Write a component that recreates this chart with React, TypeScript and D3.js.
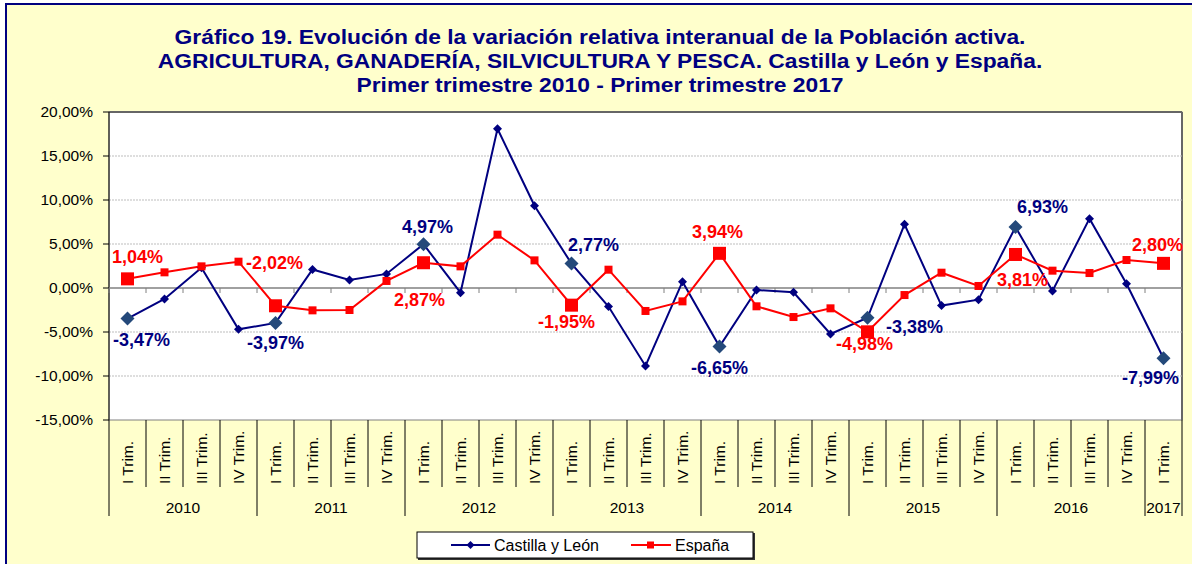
import React from 'react';
import * as d3 from 'd3';

// quarters 2010-I .. 2017-I
const years = ['2010', '2011', '2012', '2013', '2014', '2015', '2016', '2017'];
const quarterNames = ['I Trim.', 'II Trim.', 'III Trim.', 'IV Trim.'];
const categories = years.flatMap(y => (y === '2017' ? ['I Trim.'] : quarterNames).map(q => `${y}-${q}`));

const castillaLeon = [
    -3.47, -1.25, 2.3, -4.7,
    -3.97, 2.1, 0.9, 1.6,
    4.97, -0.53, 18.1, 9.35,
    2.77, -2.1, -8.86, 0.72,
    -6.65, -0.23, -0.49, -5.23,
    -3.38, 7.24, -2.0, -1.33,
    6.93, -0.34, 7.88, 0.49,
    -7.99,
];
const espana = [
    1.04, 1.78, 2.46, 2.99,
    -2.02, -2.54, -2.5, 0.8,
    2.87, 2.46, 6.06, 3.14,
    -1.95, 2.08, -2.61, -1.52,
    3.94, -2.08, -3.3, -2.31,
    -4.98, -0.8, 1.74, 0.23,
    3.81, 1.97, 1.7, 3.18,
    2.8,
];
const yTicks = [-15, -10, -5, 0, 5, 10, 15, 20];
const titleLines = [
    'Gráfico 19. Evolución de la variación relativa interanual de la Población activa.',
    'AGRICULTURA, GANADERÍA, SILVICULTURA Y PESCA. Castilla y León y España.',
    'Primer trimestre 2010 - Primer trimestre 2017',
];

// label offsets (px) for the highlighted first quarters
const blueLabelOffsets = [[14, 21], [0, 20], [4, -18], [22, -19], [0, 21], [47, 9], [27, -20], [-13, 19]];
const redLabelOffsets = [[10, -22], [-1, -43], [-4, 37], [-5, 17], [-2, -22], [-3, 12], [7, 25], [-6, -19]];

const W = 1192, H = 564;
const FONT = '"Liberation Sans", Arial, sans-serif';
const NAVY = '#000080';
const RED = '#FF0000';
const BIGBLUE = '#24497A';

const fmt = (v: number) => (v < 0 ? '-' : '') + Math.abs(v).toFixed(2).replace('.', ',') + '%';

const App = () => {
    const margin = { left: 109, right: 1182, top: 112, bottom: 420 };
    const x = d3.scaleBand().domain(categories).range([margin.left, margin.right]);
    const y = d3.scaleLinear().domain([-15, 20]).range([margin.bottom, margin.top]);
    const cx = (i: number) => (x(categories[i]) as number) + x.bandwidth() / 2;

    const line = d3.line<number>().x((d, i) => cx(i)).y(d => y(d));
    const highlighted = categories.map((c, i) => i).filter(i => categories[i].endsWith('-I Trim.'));

    const diamond = (px: number, py: number, r: number) =>
        `M${px},${py - r}L${px + r},${py}L${px},${py + r}L${px - r},${py}Z`;

    return (
        <svg width={W} height={H} style={{ position: 'absolute', left: 0, top: 0, fontFamily: FONT }}>
            <rect x={0} y={0} width={W} height={H} fill="#FFFFFF" />
            <rect x={6} y={4} width={W + 10} height={H + 10} fill="#FFFFCC" stroke={NAVY} strokeWidth={2} />

            <g transform="translate(600,0) scale(1.087,1)">
                {titleLines.map((t, i) => (
                    <text key={i} x={0} y={44 + i * 24} textAnchor="middle" fontSize={21} fontWeight="bold" fill={NAVY}>{t}</text>
                ))}
            </g>

            {/* plot area */}
            <rect x={margin.left} y={margin.top} width={margin.right - margin.left} height={margin.bottom - margin.top}
                fill="#FFFFFF" stroke="#808080" strokeWidth={1} />
            <line x1={margin.left} x2={margin.right} y1={margin.top} y2={margin.top} stroke="#666" strokeWidth={2} />
            <line x1={margin.right} x2={margin.right} y1={margin.top} y2={margin.bottom} stroke="#666" strokeWidth={2} />

            {yTicks.filter(t => t !== 0 && t !== 20 && t !== -15).map(t => (
                <line key={t} x1={margin.left} x2={margin.right} y1={y(t)} y2={y(t)}
                    stroke="#BDBDBD" strokeWidth={1} strokeDasharray="2,1" />
            ))}

            {/* y axis */}
            <line x1={margin.left} x2={margin.left} y1={margin.top} y2={margin.bottom} stroke="#000" strokeWidth={1} />
            {yTicks.map(t => (
                <g key={t}>
                    <line x1={margin.left - 6} x2={margin.left} y1={y(t)} y2={y(t)} stroke="#000" />
                    <text x={93} y={y(t)} dy="0.35em" textAnchor="end" fontSize={15.5} fill="#000">{fmt(t)}</text>
                </g>
            ))}

            {/* zero line with ticks */}
            <line x1={margin.left} x2={margin.right} y1={y(0)} y2={y(0)} stroke="#808080" strokeWidth={1.5} />
            {categories.map(c => (
                <line key={c} x1={x(c) as number} x2={x(c) as number} y1={y(0)} y2={y(0) + 5} stroke="#808080" />
            ))}

            {/* category axis */}
            {categories.map((c, i) => {
                const x0 = x(c) as number;
                const isYearStart = c.endsWith('-I Trim.');
                return (
                    <g key={c}>
                        <line x1={x0} x2={x0} y1={margin.bottom} y2={isYearStart ? 516 : 487} stroke="#000" />
                        <text transform={`translate(${cx(i) + 5.5},484) rotate(-90)`} fontSize={15.5} fill="#000">
                            {c.split('-')[1]}
                        </text>
                    </g>
                );
            })}
            <line x1={margin.right} x2={margin.right} y1={margin.bottom} y2={516} stroke="#000" />
            {years.map(yr => {
                const idx = categories.filter(c => c.startsWith(yr));
                const a = x(idx[0]) as number;
                const b = (x(idx[idx.length - 1]) as number) + x.bandwidth();
                return (
                    <text key={yr} x={(a + b) / 2} y={513} textAnchor="middle" fontSize={15.5} fill="#000">{yr}</text>
                );
            })}

            {/* series */}
            <path d={line(castillaLeon) || ''} fill="none" stroke={NAVY} strokeWidth={2} />
            <path d={line(espana) || ''} fill="none" stroke={RED} strokeWidth={2} />

            {castillaLeon.map((v, i) => highlighted.includes(i) ? null : (
                <path key={i} d={diamond(cx(i), y(v), 4.5)} fill={NAVY} />
            ))}
            {espana.map((v, i) => highlighted.includes(i) ? null : (
                <rect key={i} x={cx(i) - 4} y={y(v) - 4} width={8} height={8} fill={RED} />
            ))}
            {highlighted.map(i => (
                <path key={i} d={diamond(cx(i), y(castillaLeon[i]), 7)} fill={BIGBLUE} />
            ))}
            {highlighted.map(i => (
                <rect key={i} x={cx(i) - 6.5} y={y(espana[i]) - 6.5} width={13} height={13} fill={RED} />
            ))}

            {/* labels */}
            {highlighted.map((i, k) => (
                <text key={'b' + i} x={cx(i) + blueLabelOffsets[k][0]} y={y(castillaLeon[i]) + blueLabelOffsets[k][1]}
                    dy="0.35em" textAnchor="middle" fontSize={18} fontWeight="bold" fill={NAVY}>{fmt(castillaLeon[i])}</text>
            ))}
            {highlighted.map((i, k) => (
                <text key={'r' + i} x={cx(i) + redLabelOffsets[k][0]} y={y(espana[i]) + redLabelOffsets[k][1]}
                    dy="0.35em" textAnchor="middle" fontSize={18} fontWeight="bold" fill={RED}>{fmt(espana[i])}</text>
            ))}

            {/* legend */}
            <rect x={418} y={533} width={337} height={27} fill="#333" />
            <rect x={417} y={532} width={336} height={26} fill="#FFFFFF" stroke="#000" strokeWidth={1} />
            <line x1={451} x2={490} y1={545} y2={545} stroke={NAVY} strokeWidth={2} />
            <path d={diamond(470.5, 545, 4)} fill={NAVY} />
            <text x={494} y={545} dy="0.35em" fontSize={16} fill="#000">Castilla y León</text>
            <line x1={631} x2={671} y1={545} y2={545} stroke={RED} strokeWidth={2} />
            <rect x={647} y={541.5} width={7} height={7} fill={RED} />
            <text x={675} y={545} dy="0.35em" fontSize={16} fill="#000">España</text>
        </svg>
    );
};

export default App;
